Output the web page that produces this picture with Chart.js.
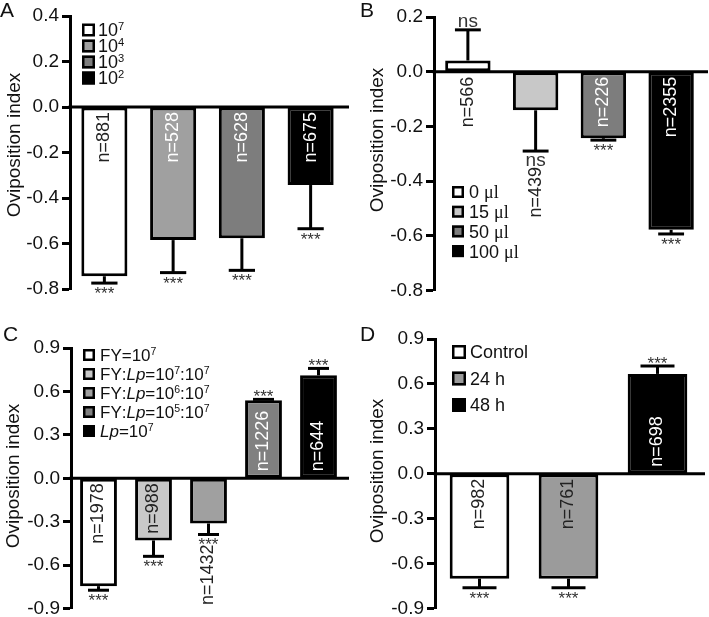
<!DOCTYPE html>
<html>
<head>
<meta charset="utf-8">
<script src="https://cdn.jsdelivr.net/npm/chart.js@4.4.1/dist/chart.umd.min.js"></script>
<style>
  html, body { margin: 0; background: #fff; overflow: hidden; }
  #fig { position: relative; width: 709px; height: 617px; }
  #fig canvas { position: absolute; }
</style>
</head>
<body>
<div id="fig">
  <canvas id="panelA" width="355" height="305" style="left:0;top:0"></canvas>
  <canvas id="panelB" width="354" height="305" style="left:355px;top:0"></canvas>
  <canvas id="panelC" width="355" height="318" style="left:0;top:305px"></canvas>
  <canvas id="panelD" width="354" height="318" style="left:355px;top:305px"></canvas>
</div>
<script>
const FONT = '"Liberation Sans", Arial, sans-serif';
const SERIF = '"Liberation Serif", "Times New Roman", serif';

// Panel A - yeast density
const legendA = ['10^7', '10^4', '10^3', '10^2'];
const valuesA = [-0.744, -0.585, -0.577, -0.343];
const errorsA = [0.030, 0.143, 0.141, 0.192];
const nA = [881, 528, 628, 675];
const sigA = ['***', '***', '***', '***'];
const ticksA = [-0.8, -0.6, -0.4, -0.2, 0.0, 0.2, 0.4];

// Panel B - volume
const legendB = ['0 ~μl~', '15 ~μl~', '50 ~μl~', '100 ~μl~'];
const valuesB = [0.041, -0.141, -0.243, -0.578];
const errorsB = [0.112, 0.149, 0.007, 0.015];
const nB = [566, 439, 226, 2355];
const sigB = ['ns', 'ns', '***', '***'];
const ticksB = [-0.8, -0.6, -0.4, -0.2, 0.0, 0.2];

// Panel C - FY:Lp ratios
const legendC = ['FY=10^7', 'FY:_Lp_=10^7:10^7', 'FY:_Lp_=10^6:10^7', 'FY:_Lp_=10^5:10^7', '_Lp_=10^7'];
const valuesC = [-0.745, -0.429, -0.312, 0.539, 0.711];
const errorsC = [0.028, 0.110, 0.076, 0.006, 0.048];
const nC = [1978, 988, 1432, 1226, 644];
const sigC = ['***', '***', '***', '***', '***'];
const ticksC = [-0.9, -0.6, -0.3, 0.0, 0.3, 0.6, 0.9];

// Panel D - time
const legendD = ['Control', '24 h', '48 h'];
const valuesD = [-0.70, -0.70, 0.667];
const errorsD = [0.06, 0.06, 0.053];
const nD = [982, 761, 698];
const sigD = ['***', '***', '***'];
const ticksD = [-0.9, -0.6, -0.3, 0.0, 0.3, 0.6, 0.9];


// texte avec exposants (^x), italique (_.._) et serif (~..~)
function drawRich(ctx, str, x, y, size) {
    let italic = false, serif = false;
    for (let i = 0; i < str.length; i++) {
        let ch = str[i];
        if (ch === '_') { italic = !italic; continue; }
        if (ch === '~') { serif = !serif; continue; }
        let sup = false;
        if (ch === '^') { sup = true; ch = str[++i]; }
        const fs = sup ? size * 0.62 : size;
        ctx.font = `${italic ? 'italic ' : ''}${fs}px ${serif ? SERIF : FONT}`;
        ctx.fillText(ch, x, sup ? y - size * 0.38 : y);
        x += ctx.measureText(ch).width;
    }
}

function line(ctx, x1, y1, x2, y2) {
    ctx.beginPath();
    ctx.moveTo(x1, y1);
    ctx.lineTo(x2, y2);
    ctx.stroke();
}

function makeDecor(p) {
    return {
        id: 'decor',
        afterDatasetsDraw(chart) {
            const ctx = chart.ctx, ys = chart.scales.y, area = chart.chartArea;
            const bars = chart.getDatasetMeta(0).data;
            const yz = ys.getPixelForValue(0);
            ctx.save();
            ctx.strokeStyle = '#000';
            ctx.lineWidth = 3;

            bars.forEach((bar, i) => {
                const v = p.values[i];
                const dir = v < 0 ? -1 : 1;
                const y0 = ys.getPixelForValue(v);
                const y1 = ys.getPixelForValue(v + dir * p.errors[i]);
                const cap = bar.width * 0.57;
                if (Math.abs(y1 - y0) > 1) line(ctx, bar.x, y0, bar.x, y1);
                line(ctx, bar.x - cap / 2, y1, bar.x + cap / 2, y1);

                // significativité
                const s = p.sig[i];
                ctx.fillStyle = '#333';
                ctx.textAlign = 'center';
                ctx.textBaseline = 'alphabetic';
                if (s === 'ns') {
                    ctx.font = `19px ${FONT}`;
                    ctx.fillText(s, bar.x, dir < 0 ? y1 + 15 : y1 - 3);
                } else {
                    ctx.font = `17px ${FONT}`;
                    ctx.fillText(s, bar.x, dir < 0 ? y1 + 16 : y1 + 3);
                }

                // n=...
                const place = p.nPlace[i];
                ctx.save();
                ctx.font = `18px ${FONT}`;
                ctx.fillStyle = p.nColors[i];
                ctx.textBaseline = 'middle';
                if (place > 0) {
                    ctx.translate(bar.x, y1 + place);
                    ctx.textAlign = 'right';
                } else if (v < 0 || place === 0) {
                    ctx.translate(bar.x, yz + 5);
                    ctx.textAlign = 'right';
                } else {
                    ctx.translate(bar.x, yz - 7);
                    ctx.textAlign = 'left';
                }
                ctx.rotate(-Math.PI / 2);
                ctx.fillText('n=' + p.n[i], 0, 0);
                ctx.restore();
            });

            ctx.lineWidth = 3;
            line(ctx, area.left - 1.5, yz, area.right + p.zeroExt, yz);
            ctx.restore();
        },
        afterDraw(chart) {
            const ctx = chart.ctx;
            ctx.save();
            ctx.fillStyle = '#111';
            ctx.textAlign = 'left';
            ctx.textBaseline = 'alphabetic';

            // lettre du panneau
            ctx.font = `21px ${FONT}`;
            ctx.fillText(p.letter, p.letterX, p.letterY);

            // titre de l'axe
            ctx.save();
            ctx.translate(p.titleX, p.titleY);
            ctx.rotate(-Math.PI / 2);
            ctx.textAlign = 'center';
            ctx.textBaseline = 'middle';
            ctx.font = `19px ${FONT}`;
            ctx.fillText('Oviposition index', 0, 0);
            ctx.restore();

            // légende
            const L = p.leg;
            p.legend.forEach((txt, i) => {
                const cy = L.y + i * L.dy;
                ctx.fillStyle = p.colors[i];
                ctx.fillRect(L.x, cy - L.box / 2, L.box, L.box);
                ctx.strokeStyle = '#000';
                ctx.lineWidth = 2.5;
                ctx.strokeRect(L.x + 1.25, cy - L.box / 2 + 1.25, L.box - 2.5, L.box - 2.5);
                ctx.fillStyle = '#111';
                drawRich(ctx, txt, L.tx, cy + L.size * 0.36, L.size);
            });
            ctx.restore();
        }
    };
}

function panel(id, p) {
    new Chart(document.getElementById(id), {
        type: 'bar',
        data: {
            labels: p.legend,
            datasets: [{
                data: p.values,
                backgroundColor: p.colors,
                borderColor: '#000',
                borderWidth: 3,
                borderSkipped: false,
                barPercentage: 0.67,
                categoryPercentage: 1
            }]
        },
        options: {
            responsive: false,
            animation: false,
            events: [],
            layout: { padding: p.padding },
            plugins: { legend: { display: false }, tooltip: { enabled: false } },
            scales: {
                x: { display: false },
                y: {
                    min: p.ticks[0],
                    max: p.ticks[p.ticks.length - 1],
                    afterFit: s => { s.width = p.axisX; },
                    afterBuildTicks: s => { s.ticks = p.ticks.map(v => ({ value: v })); },
                    ticks: {
                        padding: 3,
                        color: '#111',
                        font: { family: FONT, size: 19 },
                        callback: v => (Math.abs(v) < 1e-9 ? 0 : v).toFixed(1)
                    },
                    grid: {
                        drawOnChartArea: false,
                        drawTicks: true,
                        tickLength: 8,
                        tickWidth: 3,
                        tickColor: '#000'
                    },
                    border: { display: true, color: '#000', width: 3 }
                }
            }
        },
        plugins: [makeDecor(p)]
    });
}

panel('panelA', {
    letter: 'A', letterX: 0, letterY: 17, titleX: 15, titleY: 145,
    legend: legendA, values: valuesA, errors: errorsA, n: nA, sig: sigA, ticks: ticksA,
    colors: ['#ffffff', '#a0a0a0', '#7d7d7d', '#000000'],
    nColors: ['#222', '#fff', '#fff', '#fff'],
    nPlace: [null, null, null, null],
    leg: { x: 82, y: 30, dy: 16, box: 13, tx: 98, size: 18 },
    axisX: 70, padding: { top: 16, bottom: 16, left: 0, right: 10 }, zeroExt: 4
});

panel('panelB', {
    letter: 'B', letterX: 5, letterY: 17, titleX: 23, titleY: 140,
    legend: legendB, values: valuesB, errors: errorsB, n: nB, sig: sigB, ticks: ticksB,
    colors: ['#ffffff', '#c8c8c8', '#7d7d7d', '#000000'],
    nColors: ['#222', '#222', '#fff', '#fff'],
    nPlace: [0, 16, null, null],
    leg: { x: 97, y: 192, dy: 19.7, box: 12, tx: 114, size: 18 },
    axisX: 79, padding: { top: 17, bottom: 12, left: 0, right: 4 }, zeroExt: 3
});

panel('panelC', {
    letter: 'C', letterX: 3, letterY: 36, titleX: 14, titleY: 171,
    legend: legendC, values: valuesC, errors: errorsC, n: nC, sig: sigC, ticks: ticksC,
    colors: ['#ffffff', '#c8c8c8', '#a0a0a0', '#808080', '#000000'],
    nColors: ['#222', '#222', '#222', '#fff', '#fff'],
    nPlace: [null, null, 10, null, null],
    leg: { x: 83, y: 50, dy: 19, box: 12, tx: 100, size: 17 },
    axisX: 71, padding: { top: 43, bottom: 13, left: 0, right: 9 }, zeroExt: 3
});

panel('panelD', {
    letter: 'D', letterX: 5, letterY: 36, titleX: 23, titleY: 166,
    legend: legendD, values: valuesD, errors: errorsD, n: nD, sig: sigD, ticks: ticksD,
    colors: ['#ffffff', '#9b9b9b', '#000000'],
    nColors: ['#222', '#222', '#fff'],
    nPlace: [null, null, null],
    leg: { x: 97, y: 47, dy: 26.5, box: 14, tx: 115, size: 18 },
    axisX: 80, padding: { top: 34, bottom: 14, left: 0, right: 7 }, zeroExt: 3
});
</script>
</body>
</html>
